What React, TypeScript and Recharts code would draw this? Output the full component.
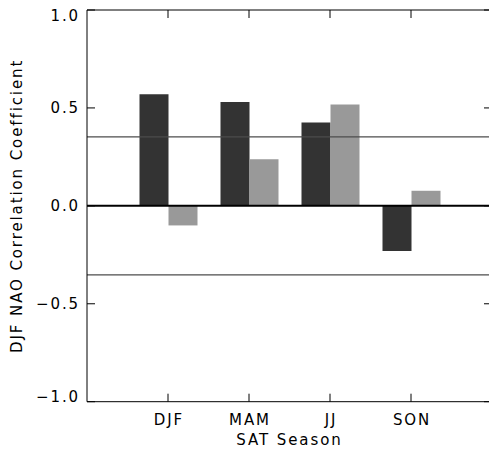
import React from 'react';
import { ComposedChart, Bar, Line, XAxis, YAxis, ReferenceLine } from 'recharts';

const categories = ['DJF', 'MAM', 'JJ', 'SON'];
const djfNaoDark = [0.57, 0.53, 0.425, -0.23];
const djfNaoLight = [-0.1, 0.238, 0.517, 0.077];
const significanceLevel = 0.352;
const yTicks = [-1, -0.5, 0, 0.5, 1];
const yDomain: [number, number] = [-1, 1];

const data = categories.map((name, i) => ({ name, dark: djfNaoDark[i], light: djfNaoLight[i] }));

const FONT = '"DejaVu Sans", sans-serif';
const TEXT_STYLE = { fontFamily: FONT, fontSize: 15, letterSpacing: 1.9, fill: '#000' } as const;

const fmt = (v: number) => (v < 0 ? '\u2212' : '') + Math.abs(v).toFixed(1);
const blank = () => '';

const LeftTickLabel = (props: any) => {
  const { x, y, payload } = props;
  const v = payload.value as number;
  const shift = v >= 1 ? 5.5 : v <= -1 ? -5.5 : 0;
  return (
    <text x={x} y={y + shift} dy="0.36em" textAnchor="end" style={TEXT_STYLE}>
      {fmt(v)}
    </text>
  );
};

const BottomTickLabel = (props: any) => {
  const { x, y, payload } = props;
  return (
    <text x={x + 1} y={y} dy="0.71em" textAnchor="middle" style={TEXT_STYLE}>
      {payload.value}
    </text>
  );
};

const YLabel = (props: any) => {
  const vb = props.viewBox || {};
  const cx = vb.x + 17;
  const cy = vb.y + vb.height / 2;
  return (
    <text
      x={cx}
      y={cy}
      transform={`rotate(-90 ${cx} ${cy})`}
      textAnchor="middle"
      dominantBaseline="central"
      style={TEXT_STYLE}
    >
      DJF NAO Correlation Coefficient
    </text>
  );
};

const XLabel = (props: any) => {
  const vb = props.viewBox || {};
  const cx = vb.x + vb.width / 2;
  return (
    <text x={cx} y={vb.y + 43} textAnchor="middle" style={TEXT_STYLE}>
      SAT Season
    </text>
  );
};

export default function App() {
  return (
    <div style={{ position: 'absolute', left: 0, top: 0, width: 489, height: 449, overflow: 'hidden', background: '#fff' }}>
      <ComposedChart
        width={500}
        height={449}
        data={data}
        margin={{ top: 0, right: 0, bottom: 0, left: 0 }}
        barCategoryGap={12}
        barGap={0}
      >
        <XAxis
          xAxisId={0}
          dataKey="name"
          orientation="bottom"
          height={47.3}
          padding={{ left: 40.5, right: 40.5 }}
          stroke="#000"
          tickSize={-8}
          tickMargin={21}
          tick={<BottomTickLabel />}
          interval={0}
          label={<XLabel />}
        />
        <XAxis
          xAxisId={1}
          dataKey="name"
          orientation="top"
          height={10}
          padding={{ left: 40.5, right: 40.5 }}
          stroke="#000"
          tickSize={-8}
          tickFormatter={blank}
          interval={0}
        />
        <YAxis
          yAxisId={0}
          orientation="left"
          width={87}
          domain={yDomain}
          ticks={yTicks}
          stroke="#000"
          tickSize={-8}
          tickMargin={15}
          tick={<LeftTickLabel />}
          interval={0}
          label={<YLabel />}
        />
        <YAxis
          yAxisId={1}
          orientation="right"
          width={8}
          domain={yDomain}
          ticks={yTicks}
          stroke="#000"
          tickSize={-8}
          tickFormatter={blank}
          interval={0}
        />
        <ReferenceLine xAxisId={0} yAxisId={0} y={significanceLevel} stroke="#4d4d4d" strokeWidth={1.2} />
        <ReferenceLine xAxisId={0} yAxisId={0} y={-significanceLevel} stroke="#4d4d4d" strokeWidth={1.2} />
        <Bar xAxisId={0} yAxisId={0} dataKey="dark" fill="#333333" isAnimationActive={false} />
        <Bar xAxisId={0} yAxisId={0} dataKey="light" fill="#999999" isAnimationActive={false} />
        <Line
          xAxisId={1}
          yAxisId={1}
          dataKey="dark"
          stroke="#ffffff"
          strokeOpacity={0}
          dot={false}
          activeDot={false}
          isAnimationActive={false}
        />
        <ReferenceLine xAxisId={0} yAxisId={0} y={0} stroke="#000" strokeWidth={2} />
      </ComposedChart>
    </div>
  );
}
